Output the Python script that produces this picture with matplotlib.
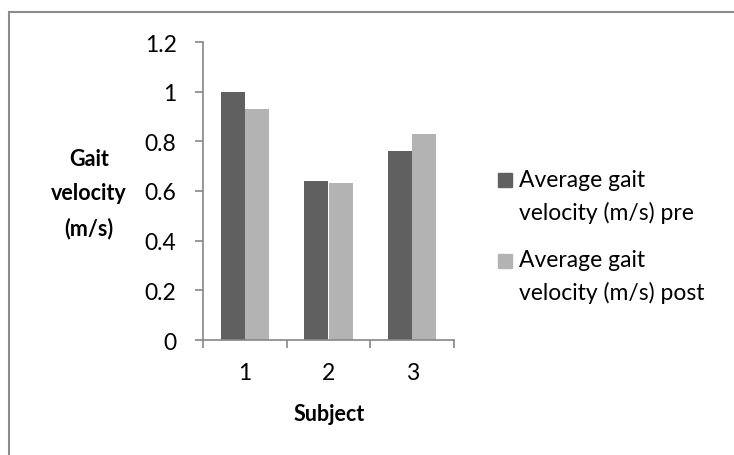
import matplotlib
matplotlib.use("Agg")
import matplotlib.pyplot as plt
from matplotlib.patches import Rectangle
from matplotlib.lines import Line2D
import numpy as np

subjects = ["1", "2", "3"]
pre = [1.00, 0.639, 0.762]
post = [0.930, 0.632, 0.828]
series_labels = ["Average gait\nvelocity (m/s) pre", "Average gait\nvelocity (m/s) post"]
yticks = [0, 0.2, 0.4, 0.6, 0.8, 1, 1.2]
ytick_labels = ["0", "0.2", "0.4", "0.6", "0.8", "1", "1.2"]

colors = ["#606060", "#b3b3b3"]
axis_col = "#868686"
FONT = "Lato"
plt.rcParams["font.family"] = [FONT, "DejaVu Sans"]

W, H = 734, 456
fig = plt.figure(figsize=(W / 100, H / 100), dpi=100)
ax = fig.add_axes([203 / W, 1 - 341 / H, (454 - 203) / W, (341 - 43) / H])

x = np.arange(len(subjects))
bw = 0.29
ax.bar(x - bw / 2, pre, bw, color=colors[0], linewidth=0)
ax.bar(x + bw / 2, post, bw, color=colors[1], linewidth=0)

ax.set_xlim(-0.5, len(subjects) - 0.5)
ax.set_ylim(0, 1.2)
ax.set_yticks(yticks)
ax.set_yticklabels(ytick_labels)
ax.set_xticks(x)
ax.set_xticklabels(subjects)
ax.set_xticks(np.arange(len(subjects) + 1) - 0.5, minor=True)
ax.tick_params(axis="x", which="major", length=0, pad=16, labelsize=16.5, colors="black")
ax.tick_params(axis="x", which="minor", length=6, color=axis_col, width=1.2)
ax.tick_params(axis="y", length=6, color=axis_col, width=1.2, pad=13, labelsize=16.5, labelcolor="black")
for s in ["top", "right"]:
    ax.spines[s].set_visible(False)
for s in ["left", "bottom"]:
    ax.spines[s].set_color(axis_col)
    ax.spines[s].set_linewidth(1.2)

fig.text(89 / W, 1 - 194 / H, "Gait\nvelocity\n(m/s)", ha="center", va="center",
         fontsize=15.5, fontweight="bold", linespacing=1.75)
fig.text(329 / W, 1 - 415 / H, "Subject", ha="center", va="center",
         fontsize=15.5, fontweight="bold")

# legend
leg_centers = [197, 277]
sq_tops = [174, 255]
for i, lab in enumerate(series_labels):
    t = sq_tops[i]
    fig.patches.append(Rectangle((498 / W, 1 - (t + 14) / H), 14 / W, 14 / H,
                                 transform=fig.transFigure, color=colors[i], figure=fig))
    fig.text(519 / W, 1 - leg_centers[i] / H, lab, ha="left", va="center", fontsize=16.5,
             linespacing=1.62)

# chart frame (only top & left visible)
fig.add_artist(Line2D([9 / W, 1], [1 - 13 / H, 1 - 13 / H], transform=fig.transFigure,
                      color="#8c8c8c", linewidth=1.5))
fig.add_artist(Line2D([9 / W, 9 / W], [0, 1 - 13 / H], transform=fig.transFigure,
                      color="#8c8c8c", linewidth=1.5))

fig.savefig("out.png", dpi=100)
